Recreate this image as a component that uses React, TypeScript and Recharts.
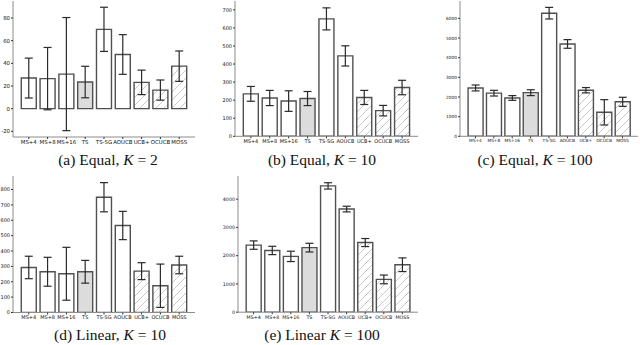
import { Bar, BarChart, Cell, ErrorBar, XAxis, YAxis } from 'recharts';

const categories = ['MS+4', 'MS+8', 'MS+16', 'TS', 'TS-SG', 'AOUCB', 'UCB+', 'OCUCB', 'MOSS'];

const equal2Mean = [27, 26.5, 30.5, 23.5, 70, 47.8, 23.2, 16.4, 37.5];
const equal2Err = [17.6, 27.5, 49.9, 13.9, 19.5, 17.5, 10.8, 8.9, 13.4];

const equal10Mean = [235, 212, 195, 209, 650, 445, 215, 142, 270];
const equal10Err = [41, 42, 57, 39, 61, 56, 39, 29, 40];

const equal100Mean = [2460, 2195, 1950, 2220, 6265, 4700, 2345, 1220, 1755];
const equal100Err = [150, 145, 120, 150, 295, 220, 135, 645, 230];

const linear10Mean = [293, 265, 252, 265, 750, 566, 269, 174, 309];
const linear10Err = [73, 94, 172, 74, 95, 92, 55, 141, 57];

const linear100Mean = [2375, 2185, 1975, 2285, 4470, 3650, 2465, 1160, 1680];
const linear100Err = [148, 148, 183, 154, 112, 100, 142, 154, 242];

const equal2Ticks = [-20, 0, 20, 40, 60, 80];
const equal10Ticks = [0, 100, 200, 300, 400, 500, 600, 700];
const equal100Ticks = [0, 1000, 2000, 3000, 4000, 5000, 6000];
const linear10Ticks = [0, 100, 200, 300, 400, 500, 600, 700, 800];
const linear100Ticks = [0, 1000, 2000, 3000, 4000];

const grayBars = ['TS'];
const hatchedBars = ['UCB+', 'OCUCB', 'MOSS'];

const EDGE = '#505050';
const FRAME = '#8c8c8c';

function fillFor(name: string, id: string) {
  if (grayBars.includes(name)) return '#dcdcdc';
  if (hatchedBars.includes(name)) return `url(#hatch-${id})`;
  return '#fff';
}

interface PanelProps {
  id: string;
  mean: number[];
  err: number[];
  domain: [number, number];
  ticks: number[];
  left: number;
  top: number;
  frameW: number;
  frameH: number;
  yAxisW: number;
  fontSize: number;
}

function Panel({ id, mean, err, domain, ticks, left, top, frameW, frameH, yAxisW, fontSize }: PanelProps) {
  const data = categories.map((name, i) => ({ name, v: mean[i], e: err[i] }));
  // matplotlib puts 5% margin on each side of the bar span
  const pad = frameW * 0.0351;
  const tickStyle = { fontSize, fill: '#111', fontFamily: 'DejaVu Sans' };

  return (
    <div style={{ position: 'absolute', left: left - yAxisW, top: top - 1 }}>
      <BarChart
        width={yAxisW + frameW + 1}
        height={frameH + 13}
        data={data}
        margin={{ top: 1, right: 1, left: 0, bottom: 0 }}
        barCategoryGap="10%"
      >
        <defs>
          <pattern id={`hatch-${id}`} patternUnits="userSpaceOnUse" width={8} height={8}>
            <rect width={8} height={8} fill="#fff" />
            <path d="M-2,2 l4,-4 M0,8 l8,-8 M6,10 l4,-4" stroke="#bdbdbd" strokeWidth={0.8} />
          </pattern>
        </defs>
        <XAxis
          dataKey="name"
          interval={0}
          height={12}
          padding={{ left: pad, right: pad }}
          tick={tickStyle}
          tickSize={2}
          tickMargin={1}
          tickLine={{ stroke: '#333' }}
          axisLine={{ stroke: FRAME }}
        />
        <XAxis
          xAxisId="top"
          orientation="top"
          dataKey="name"
          height={0}
          tick={false}
          tickLine={false}
          axisLine={{ stroke: FRAME }}
        />
        <YAxis
          type="number"
          domain={domain}
          ticks={ticks}
          interval={0}
          allowDataOverflow
          width={yAxisW}
          tick={tickStyle}
          tickSize={2}
          tickMargin={1}
          tickLine={{ stroke: '#333' }}
          axisLine={{ stroke: FRAME }}
        />
        <YAxis
          yAxisId="right"
          orientation="right"
          width={0}
          tick={false}
          tickLine={false}
          axisLine={{ stroke: FRAME }}
        />
        <Bar dataKey="v" stroke={EDGE} strokeWidth={1.4} isAnimationActive={false}>
          {data.map((d) => (
            <Cell key={d.name} fill={fillFor(d.name, id)} />
          ))}
          <ErrorBar dataKey="e" width={4} stroke="#2a2a2a" strokeWidth={1.2} isAnimationActive={false} />
        </Bar>
      </BarChart>
    </div>
  );
}

function Caption({ x, y, label, name, k }: { x: number; y: number; label: string; name: string; k: number }) {
  return (
    <div
      style={{
        position: 'absolute',
        left: x,
        top: y,
        transform: 'translate(-50%, -50%)',
        whiteSpace: 'nowrap',
        fontFamily: 'Liberation Serif',
        fontSize: 15.5,
        color: '#111',
      }}
    >
      ({label}) {name} <i>K</i> = {k}
    </div>
  );
}

export default function App() {
  return (
    <div style={{ position: 'absolute', left: 0, top: 0, width: 640, height: 345, background: '#fff' }}>
      <Panel id="a" mean={equal2Mean} err={equal2Err} domain={[-25, 95]} ticks={equal2Ticks}
        left={13} top={1} frameW={182} frameH={136} yAxisW={13} fontSize={5.4} />
      <Panel id="b" mean={equal10Mean} err={equal10Err} domain={[0, 749]} ticks={equal10Ticks}
        left={234.5} top={1} frameW={183} frameH={135.3} yAxisW={14} fontSize={5} />
      <Panel id="c" mean={equal100Mean} err={equal100Err} domain={[0, 6885]} ticks={equal100Ticks}
        left={460} top={1} frameW={178} frameH={135.3} yAxisW={16} fontSize={4.3} />
      <Panel id="d" mean={linear10Mean} err={linear10Err} domain={[0, 888]} ticks={linear10Ticks}
        left={13} top={175.5} frameW={182} frameH={136.5} yAxisW={13} fontSize={5} />
      <Panel id="e" mean={linear100Mean} err={linear100Err} domain={[0, 4820]} ticks={linear100Ticks}
        left={237.5} top={175.5} frameW={180} frameH={136.2} yAxisW={16} fontSize={4.8} />

      <Caption x={108} y={160} label="a" name="Equal," k={2} />
      <Caption x={322} y={160} label="b" name="Equal," k={10} />
      <Caption x={535} y={160} label="c" name="Equal," k={100} />
      <Caption x={110} y={335} label="d" name="Linear," k={10} />
      <Caption x={322} y={335} label="e" name="Linear" k={100} />
    </div>
  );
}
